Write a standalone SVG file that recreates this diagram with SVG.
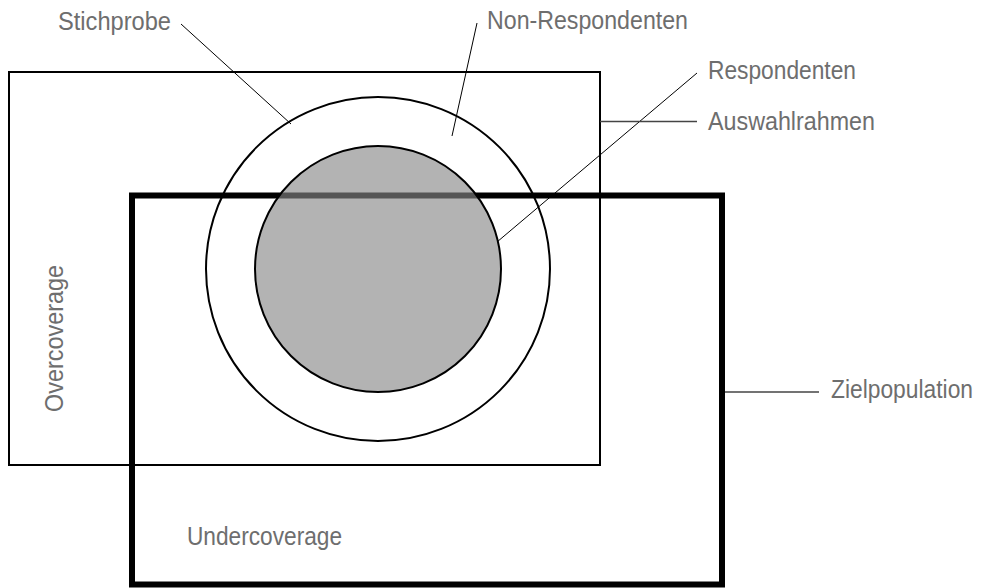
<svg xmlns="http://www.w3.org/2000/svg" width="987" height="588" viewBox="0 0 987 588">
  <style>
    .lbl { font-family: "Liberation Sans", Arial, sans-serif; font-size: 25px; fill: #6e6e6e; }
    .frame { fill: none; stroke: #000; stroke-width: 2; }
    .thick { fill: none; stroke: #000; stroke-width: 6; }
    .lead { stroke: #000; stroke-width: 1; fill: none; }
    .hlead { stroke: #444; stroke-width: 1.3; fill: none; }
  </style>
  <rect width="987" height="588" fill="#fff"/>
  <g id="auswahlrahmen">
    <rect class="frame" x="9" y="72" width="591" height="393"/>
  </g>
  <g id="stichprobe">
    <circle class="frame" cx="378" cy="269" r="172"/>
  </g>
  <g id="zielpopulation">
    <rect class="thick" x="132" y="195.5" width="590" height="389"/>
  </g>
  <g id="respondenten">
    <circle cx="378" cy="269" r="123" fill="#878787" fill-opacity="0.63" stroke="#000" stroke-width="2"/>
  </g>
  <g id="connectors">
    <line class="lead" x1="181" y1="24" x2="291" y2="124"/>
    <line class="lead" x1="477" y1="23" x2="452" y2="136"/>
    <line class="lead" x1="697" y1="73" x2="497" y2="242"/>
    <line class="hlead" x1="600" y1="121.5" x2="697" y2="121.5"/>
    <line class="hlead" x1="725" y1="392" x2="819" y2="392"/>
  </g>
  <g id="labels">
    <text class="lbl" x="58" y="30" textLength="113" lengthAdjust="spacingAndGlyphs">Stichprobe</text>
    <text class="lbl" x="487" y="29" textLength="201" lengthAdjust="spacingAndGlyphs">Non-Respondenten</text>
    <text class="lbl" x="708" y="79" textLength="148" lengthAdjust="spacingAndGlyphs">Respondenten</text>
    <text class="lbl" x="708" y="130" textLength="167" lengthAdjust="spacingAndGlyphs">Auswahlrahmen</text>
    <text class="lbl" x="831" y="398" textLength="142" lengthAdjust="spacingAndGlyphs">Zielpopulation</text>
    <text class="lbl" x="187" y="545" textLength="155" lengthAdjust="spacingAndGlyphs">Undercoverage</text>
    <text class="lbl" transform="translate(63,412) rotate(-90)" x="0" y="0" textLength="147" lengthAdjust="spacingAndGlyphs">Overcoverage</text>
  </g>
</svg>
